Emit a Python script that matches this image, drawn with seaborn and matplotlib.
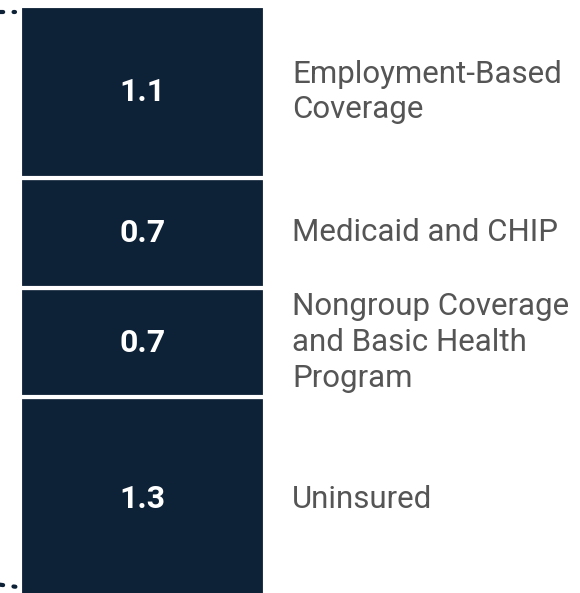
import pandas as pd
import seaborn as sns
import matplotlib.pyplot as plt

# segments listed bottom to top
categories = ["Uninsured", "Nongroup Coverage\nand Basic Health\nProgram", "Medicaid and CHIP", "Employment-Based\nCoverage"]
values = [1.3, 0.7, 0.7, 1.1]
value_labels = ["1.3", "0.7", "0.7", "1.1"]

bar_color = "#0d2137"
text_color = "#555555"

sns.set_style("white")
plt.rcParams["font.family"] = ["Roboto", "DejaVu Sans"]

fig = plt.figure(figsize=(5.8, 5.93), dpi=100)
ax = fig.add_axes([0, 0, 1, 1])

df = pd.DataFrame({"group": ["total"] * len(values), "segment": categories, "value": values})

bottom = 0.0
for i, row in df.iterrows():
    sns.barplot(x=[row["group"]], y=[row["value"]], bottom=bottom, color=bar_color,
                width=0.8, edgecolor="white", linewidth=3, saturation=1, ax=ax)
    mid = bottom + row["value"] / 2
    ax.text(0, mid, value_labels[i], color="white", fontsize=23, fontweight="bold",
            ha="center", va="center")
    ax.text(0.488, mid, row["segment"], color=text_color, fontsize=22.5,
            ha="left", va="center", linespacing=1.3)
    bottom += row["value"]

total = bottom
# dotted bracket ends on the left edge
ax.plot([-0.53, -0.415], [total - 0.04, total - 0.04], ls=(0, (1, 2.5)), lw=3,
        color=bar_color, dash_capstyle="round", clip_on=False)
ax.plot([-0.53, -0.415], [0.12, 0.09], ls=(0, (1, 2.5)), lw=3,
        color=bar_color, dash_capstyle="round", clip_on=False)

ax.set_xlim(-0.4653, 1.4286)
ax.set_ylim(0.05, 3.838)
ax.axis("off")

plt.savefig("out.png", dpi=100)
